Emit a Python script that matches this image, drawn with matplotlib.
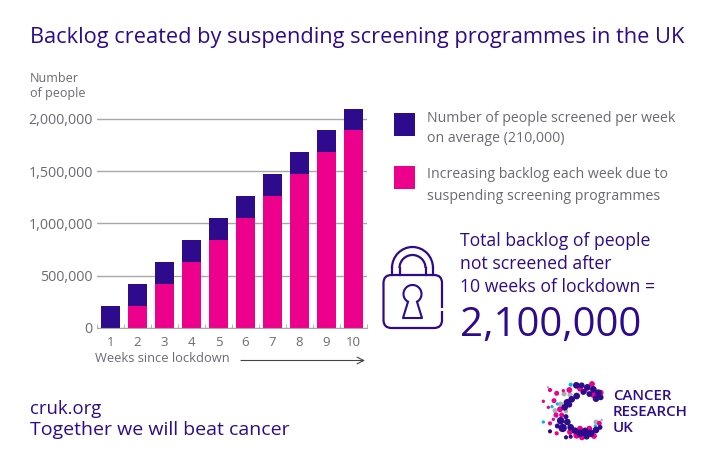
#!/usr/bin/env python3
# Backlog from suspended screening programmes
import matplotlib.pyplot as plt
from matplotlib.patches import Arc, FancyBboxPatch, Circle

weeks = [1, 2, 3, 4, 5, 6, 7, 8, 9, 10]
backlog = [0, 210000, 420000, 630000, 840000, 1050000, 1260000, 1470000, 1680000, 1890000]
screened = [210000, 210000, 210000, 210000, 210000, 210000, 210000, 210000, 210000, 210000]
y_ticks = [0, 500000, 1000000, 1500000, 2000000]

# logo dots: x, y, radius
logo_navy = [(139,46,8),(155,46,7),(172,52,8),(190,58,8),(205,68,8),(212,82,7),(198,86,8),(178,72,7),(160,66,7),
             (140,78,8),(125,88,8),(112,98,9),(104,112,8),(92,152,9),(112,156,8),(122,172,8),(98,174,10),(82,168,6),
             (135,182,8),(150,190,9),(165,186,10),(182,190,9),(198,180,8),(210,172,6),(170,200,7),(122,200,5),
             (60,184,5),(108,202,5),(118,104,7),(108,140,6)]
logo_pink = [(118,60,7),(150,56,7),(186,42,7),(190,74,8),(212,68,7),(80,70,6),(60,60,5),(72,92,6),(40,94,4),(90,118,7),
             (55,112,4),(78,135,6),(60,160,5),(80,190,5),(120,186,7),(140,196,8),(156,202,7),(192,198,7),(208,160,6),
             (178,176,7),(100,62,4),(150,176,7),(70,148,4),(165,62,6),(200,72,6),(95,135,6)]
logo_cyan = [(122,44,5),(140,80,6),(82,102,4),(80,138,4),(40,156,4),(155,205,4),(196,168,4),(66,110,4)]
logo_grey = [(102,72,6),(120,74,6),(92,102,6),(75,122,6),(54,52,3),(108,124,5),(198,156,6),(215,150,3),(166,176,4)]

navy = "#2e0a8c"
pink = "#ec008c"
grey = "#6a6a72"
plt.rcParams["font.family"] = ["Open Sans", "DejaVu Sans"]

fig = plt.figure(figsize=(7.2, 4.62), dpi=100)

# chart area in pixels: x 97-367, y 108.5-327.7
ax = fig.add_axes([97 / 720, 1 - 327.7 / 462, 270 / 720, 219.2 / 462])
ax.bar(weeks, backlog, width=0.72, color=pink)
ax.bar(weeks, screened, width=0.72, bottom=backlog, color=navy)
ax.set_xlim(0.5, 10.5)
ax.set_ylim(0, 2100000)
ax.set_axisbelow(True)
ax.grid(axis="y", color="#a8a8a8", lw=1)
for side in ["top", "left", "right"]:
    ax.spines[side].set_visible(False)
ax.spines["bottom"].set_color("#a8a8a8")
ax.set_xticks(weeks)
ax.set_xticklabels(weeks, fontsize=9.5, color=grey)
ax.set_xticks([w + 0.5 for w in weeks[:-1]] + [0.5, 10.5], minor=True)
ax.set_yticks(y_ticks)
ax.set_yticklabels([f"{v:,}" for v in y_ticks], fontsize=10.3, color=grey)
ax.tick_params(axis="both", length=0)
ax.tick_params(axis="x", which="minor", direction="in", length=3, color="#a8a8a8")
ax.tick_params(axis="x", pad=6)
ax.tick_params(axis="y", pad=3)

# overlay in pixel coordinates for the text and the drawn icons
ov = fig.add_axes([0, 0, 1, 1], zorder=5)
ov.set_xlim(0, 720)
ov.set_ylim(462, 0)
ov.axis("off")


def label(x, y, s, size, color=navy, weight="normal"):
    ov.text(x, y, s, fontsize=size, color=color, fontweight=weight, va="center", ha="left")


label(30, 38, "Backlog created by suspending screening programmes in the UK", 15.7)
label(30, 79, "Number", 9, grey)
label(30, 94, "of people", 9, grey)
label(95, 359, "Weeks since lockdown", 9.3, grey)
ov.annotate("", xy=(365, 360.5), xytext=(241, 360.5),
            arrowprops=dict(arrowstyle="->", color="#444444", lw=0.8, mutation_scale=12, shrinkA=0, shrinkB=0))

# legend
ov.add_patch(plt.Rectangle((394, 113), 21, 23, color=navy, lw=0))
ov.add_patch(plt.Rectangle((394, 166), 21, 23, color=pink, lw=0))
label(427, 118, "Number of people screened per week", 10.2, grey)
label(427, 139, "on average (210,000)", 10.2, grey)
label(427, 175, "Increasing backlog each week due to", 10.2, grey)
label(427, 197, "suspending screening programmes", 10.2, grey)

# callout
label(460, 241, "Total backlog of people", 12.7)
label(460, 264, "not screened after", 12.7)
label(460, 287, "10 weeks of lockdown =", 12.7)
label(460, 326, "2,100,000", 29)

# padlock
ov.add_patch(FancyBboxPatch((383.5, 275), 58.5, 53, boxstyle="round,pad=0,rounding_size=8",
                            fc="none", ec=navy, lw=1.6))
ov.add_patch(plt.Rectangle((440, 308), 4, 3, fc="white", ec="none", zorder=3))
ov.add_patch(Arc((412.5, 268), 41, 42, theta1=180, theta2=360, ec=navy, lw=1.6))
ov.add_patch(Arc((412.5, 268), 26, 26, theta1=180, theta2=360, ec=navy, lw=1.6))
for x in [392, 399.5, 425.5, 433]:
    ov.plot([x, x], [268, 275], color=navy, lw=1.6)
ov.add_patch(Arc((412.5, 294), 18, 18, theta1=120, theta2=420, ec=navy, lw=1.5))
ov.plot([408, 403, 422, 417], [301.8, 318, 318, 301.8], color=navy, lw=1.5)

# footer
label(30, 409, "cruk.org", 13.3)
label(30, 430, "Together we will beat cancer", 14)

# logo
for dots, col in [(logo_grey, "#a9b0b0"), (logo_cyan, "#00b6ed"), (logo_pink, pink), (logo_navy, navy)]:
    for x, y, r in dots:
        ov.add_patch(Circle((530 + x / 3, 370 + y / 3), r / 2.4, fc=col, ec="none"))
label(613, 396, "CANCER", 10.8, navy, "semibold")
label(613, 412, "RESEARCH", 10.8, navy, "semibold")
label(613, 428, "UK", 10.8, navy, "semibold")

fig.savefig("out.png", dpi=100)
